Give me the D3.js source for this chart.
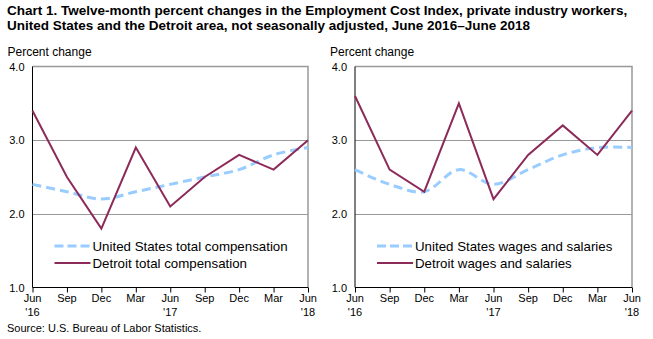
<!DOCTYPE html>
<html>
<head>
<meta charset="utf-8">
<script src="https://cdn.jsdelivr.net/npm/d3@7"></script>
<style>
  body { margin: 0; background: #fff; }
  svg { display: block; font-family: "Liberation Sans", Arial, sans-serif; }
</style>
</head>
<body>
<svg id="chart" width="653" height="339"></svg>
<script>
var months = ["Jun", "Sep", "Dec", "Mar", "Jun", "Sep", "Dec", "Mar", "Jun"];
var years = ["'16", "", "", "", "'17", "", "", "", "'18"];
var yTicks = [1.0, 2.0, 3.0, 4.0];

var usTotal = [2.4, 2.3, 2.2, 2.3, 2.4, 2.5, 2.6, 2.8, 2.9];
var detroitTotal = [3.4, 2.5, 1.8, 2.9, 2.1, 2.5, 2.8, 2.6, 3.0];
var usWages = [2.6, 2.4, 2.3, 2.6, 2.4, 2.6, 2.8, 2.9, 2.9];
var detroitWages = [3.6, 2.6, 2.3, 3.5, 2.2, 2.8, 3.2, 2.8, 3.4];

var panels = [
  { left: 32.5, right: 308, us: usTotal, det: detroitTotal,
    usLabel: "United States total compensation", detLabel: "Detroit total compensation" },
  { left: 355, right: 632, us: usWages, det: detroitWages,
    usLabel: "United States wages and salaries", detLabel: "Detroit wages and salaries" }
];

var svg = d3.select("#chart");
var plotTop = 66.5, plotBottom = 287.5;

svg.append("text").attr("x", 7).attr("y", 15)
  .attr("font-size", 13.5).attr("font-weight", "bold")
  .text("Chart 1. Twelve-month percent changes in the Employment Cost Index, private industry workers,");
svg.append("text").attr("x", 7).attr("y", 30)
  .attr("font-size", 13.5).attr("font-weight", "bold")
  .text("United States and the Detroit area, not seasonally adjusted, June 2016\u2013June 2018");
svg.append("text").attr("x", 7).attr("y", 332)
  .attr("font-size", 11).text("Source: U.S. Bureau of Labor Statistics.");

var y = d3.scaleLinear().domain([1, 4]).range([plotBottom, plotTop]);

panels.forEach(function (p) {
  var x = d3.scalePoint().domain(d3.range(months.length)).range([p.left, p.right]);
  var g = svg.append("g");

  g.append("text").attr("x", p.left - 25).attr("y", 56)
    .attr("font-size", 12).text("Percent change");

  // gridlines and frame
  g.selectAll("line.grid").data([2, 3]).enter().append("line")
    .attr("x1", p.left).attr("x2", p.right)
    .attr("y1", function (d) { return Math.round(y(d)) + 0.5; })
    .attr("y2", function (d) { return Math.round(y(d)) + 0.5; })
    .attr("stroke", "#999").attr("stroke-width", 1);
  g.append("path")
    .attr("d", "M" + p.left + "," + plotTop + "H" + p.right + "V" + plotBottom)
    .attr("fill", "none").attr("stroke", "#999").attr("stroke-width", 1.5);

  // y tick labels
  g.selectAll("text.yt").data(yTicks).enter().append("text")
    .attr("x", p.left - 8).attr("y", function (d) { return y(d) + 4; })
    .attr("text-anchor", "end").attr("font-size", 11)
    .text(function (d) { return d.toFixed(1); });

  // x axis
  var xAxis = d3.axisBottom(x).tickSize(5).tickFormat("");
  var ax = g.append("g").attr("transform", "translate(0," + plotBottom + ")").call(xAxis);
  ax.select(".domain").attr("stroke", "#000").attr("d", "M" + p.left + ",0H" + p.right);
  ax.selectAll(".tick line").attr("stroke", "#000");

  g.selectAll("text.m").data(months).enter().append("text")
    .attr("x", function (d, i) { return x(i); }).attr("y", 302)
    .attr("text-anchor", "middle").attr("font-size", 11).text(function (d) { return d; });
  g.selectAll("text.yr").data(years).enter().append("text")
    .attr("x", function (d, i) { return x(i); }).attr("y", 316)
    .attr("text-anchor", "middle").attr("font-size", 11).text(function (d) { return d; });

  // y axis
  g.append("line").attr("x1", p.left).attr("x2", p.left).attr("y1", plotTop).attr("y2", plotBottom)
    .attr("stroke", "#000").attr("stroke-width", 1);

  var usLine = d3.line().x(function (d, i) { return x(i); }).y(function (d) { return y(d); })
    .curve(d3.curveCatmullRom.alpha(0.5));
  var detLine = d3.line().x(function (d, i) { return x(i); }).y(function (d) { return y(d); });

  g.append("path").attr("d", usLine(p.us)).attr("fill", "none")
    .attr("stroke", "#99ccff").attr("stroke-width", 3).attr("stroke-dasharray", "9,5");
  g.append("path").attr("d", detLine(p.det)).attr("fill", "none")
    .attr("stroke", "#8c2b5a").attr("stroke-width", 2);

  // legend
  var lx = p.left + 22;
  g.append("line").attr("x1", lx).attr("x2", lx + 36).attr("y1", 246).attr("y2", 246)
    .attr("stroke", "#99ccff").attr("stroke-width", 3).attr("stroke-dasharray", "9,4");
  g.append("line").attr("x1", lx).attr("x2", lx + 36).attr("y1", 263).attr("y2", 263)
    .attr("stroke", "#8c2b5a").attr("stroke-width", 2);
  g.append("text").attr("x", lx + 38).attr("y", 251).attr("font-size", 13.3).text(p.usLabel);
  g.append("text").attr("x", lx + 38).attr("y", 268).attr("font-size", 13.3).text(p.detLabel);
});
</script>
</body>
</html>
